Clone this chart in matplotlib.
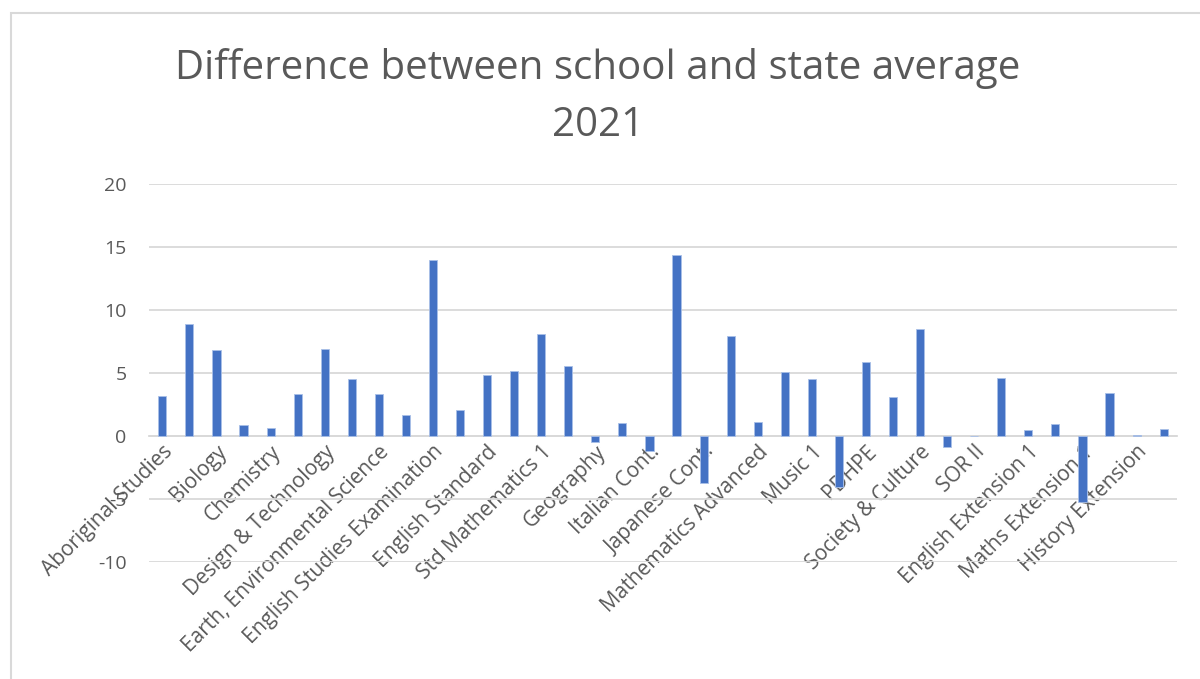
import matplotlib.pyplot as plt
from matplotlib.patches import Rectangle

# subjects shown on the axis (Excel only printed every other category)
shown_labels = [
    'Aboriginal Studies', 'Biology', 'Chemistry', 'Design & Technology',
    'Earth, Environmental Science', 'English Studies Examination',
    'English Standard', 'Std Mathematics 1', 'Geography', 'Italian Cont.',
    'Japanese Cont.', 'Mathematics Advanced', 'Music 1', 'PDHPE',
    'Society & Culture', 'SOR II', 'English Extension 1',
    'Maths Extension 1', 'History Extension']

# difference to state average, one value per subject (38 subjects)
diff = [3.15, 8.84, 6.80, 0.82, 0.61, 3.33, 6.88, 4.47, 3.28, 1.67,
        13.92, 2.04, 4.84, 5.13, 8.10, 5.56, -0.53, 0.98, -1.22, 14.31,
        -3.74, 7.91, 1.06, 5.05, 4.47, -4.08, 5.87, 3.04, 8.49, -0.89,
        0.0, 4.55, 0.48, 0.90, -5.24, 3.36, 0.05, 0.56]

y_ticks = [-10, -5, 0, 5, 10, 15, 20]

txt = '#595959'
grid = '#D9D9D9'
plt.rcParams['font.family'] = ['Open Sans', 'DejaVu Sans']

fig = plt.figure(figsize=(12, 6.79), dpi=100)
ax = fig.add_axes([0.124, 0.1727, 0.857, 0.5568])

# chart frame
fig.patches.append(Rectangle((11 / 1200, -0.1), 1.2, 1 - 13 / 679 + 0.1,
                             transform=fig.transFigure, fill=False,
                             edgecolor=grid, linewidth=1.5))

x = list(range(len(diff)))
ax.bar(x, diff, width=0.3, color='#4472C4', edgecolor='#A9C0E8',
       linewidth=0.6, zorder=3)

ax.set_xlim(-0.5, len(diff) - 0.5)
ax.set_ylim(-10, 20)
ax.set_yticks(y_ticks)
ax.set_yticklabels([str(v) for v in y_ticks])
ax.grid(axis='y', color=grid, linewidth=1.3, zorder=0)

ax.spines['bottom'].set_position(('data', 0))
ax.spines['bottom'].set_color(grid)
ax.spines['bottom'].set_linewidth(1.3)
for s in ['top', 'right', 'left']:
    ax.spines[s].set_visible(False)

ax.set_xticks(x[::2])
ax.set_xticklabels(shown_labels, rotation=45, ha='right',
                   rotation_mode='anchor', fontsize=15, color=txt)
ax.tick_params(axis='x', length=0, pad=4)
ax.tick_params(axis='y', length=0, pad=16, labelsize=14, labelcolor=txt)

fig.text(0.498, 0.857, 'Difference between school and state average\n2021',
         ha='center', va='center', fontsize=29, color=txt, linespacing=1.55)

fig.savefig('out.png', dpi=100)
